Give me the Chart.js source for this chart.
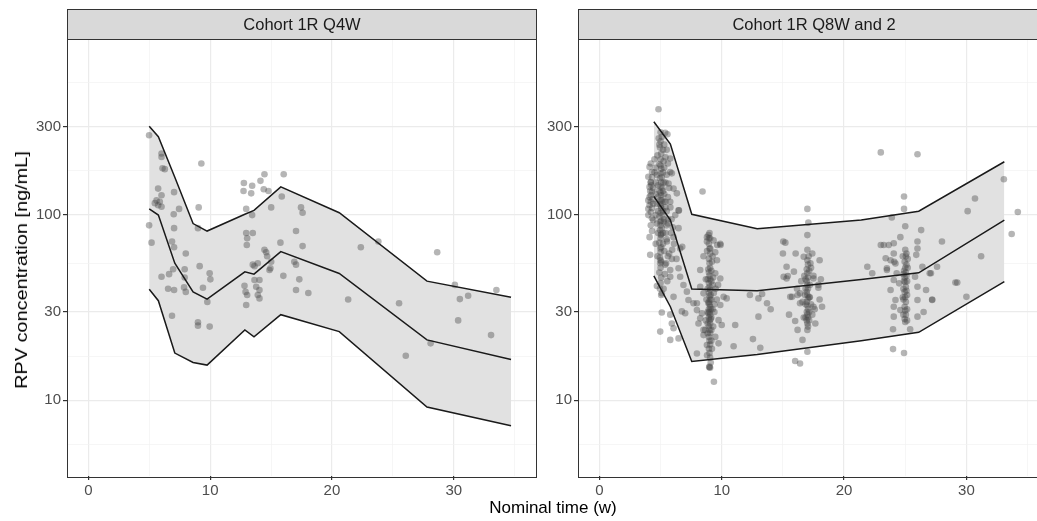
<!DOCTYPE html>
<html>
<head>
<meta charset="utf-8">
<script src="https://cdn.jsdelivr.net/npm/chart.js@4.4.1/dist/chart.umd.min.js"></script>
<style>
html,body{margin:0;padding:0;background:#fff;width:1037px;height:521px;overflow:hidden;position:relative;font-family:"Liberation Sans",Arial,sans-serif}
canvas{position:absolute;top:0}
#c1{left:0}
#c2{left:540px}
.ttl{position:absolute;color:#000;font-size:17px;white-space:nowrap}
#ylab{left:22px;top:270px;transform:translate(-50%,-50%) rotate(-90deg) scaleX(1.17)}
#xlab{left:553px;top:508px;transform:translate(-50%,-50%)}
</style>
</head>
<body>
<canvas id="c1" width="540" height="521"></canvas>
<canvas id="c2" width="520" height="521"></canvas>
<div class="ttl" id="ylab">RPV concentration [ng/mL]</div>
<div class="ttl" id="xlab">Nominal time (w)</div>
<script>
// tick labels
var xTicks = [0, 10, 20, 30];
var xMinor = [5, 15, 25, 35];
var yTicks = [10, 30, 100, 300];

// Cohort 1R Q4W: prediction interval (5th, 50th, 95th percentile)
var q4wTime = [5.0, 5.75, 7.1, 8.6, 9.75, 12.85, 13.6, 15.8, 20.6, 27.8, 34.7];
var q4wP95 = [302, 265, 160, 90, 82, 101, 106, 142, 103, 44, 36];
var q4wP50 = [108, 100, 55, 38.5, 35.2, 49.4, 48, 63.5, 48.4, 21.2, 16.6];
var q4wP05 = [39.8, 34.5, 18, 16, 15.5, 24, 22, 29, 23.5, 9.2, 7.3];

// Cohort 1R Q8W and 2
var q8wTime = [4.45, 5.8, 7.55, 12.9, 21.4, 26.1, 33.1];
var q8wP95 = [319, 242, 101, 84.5, 94, 105, 194];
var q8wP50 = [126, 94, 39.9, 39, 44.9, 48.8, 94];
var q8wP05 = [47, 32, 16.2, 17.7, 21, 23.3, 43.7];

// observed concentrations [time, conc]
var q4wObs = [
[4.99,270],[6.01,215],[6.01,206],[6.09,179],[6.28,177],[9.28,190],[5.73,139],[6.01,128],[5.6,120],[5.46,116],
[5.73,113],[6.01,111],[5.87,118],[7.04,133],[7.45,108],[7.01,101],[9.06,110],[4.99,88],[5.19,71],[7.04,85],
[6.87,72],[7.04,67],[8.0,62],[9.14,53],[7.91,51],[6.96,51],[6.63,48],[6.01,46.5],[6.55,40],[7.04,39.4],
[7.86,40.7],[8.0,38.5],[9.96,48.5],[10.02,45],[9.41,40.5],[9.77,34],[9.0,85],[6.87,28.6],[9.0,26.4],[9.0,25.3],
[9.96,25],[12.77,149],[12.74,135],[13.37,131],[13.45,144],[14.13,153],[14.46,166],[14.4,138],[14.79,135],[16.04,166],
[12.96,108],[13.45,100],[15.01,110],[15.88,126],[12.96,80],[13.5,80],[13.04,75],[13.01,69],[14.46,65],[14.6,63],
[14.68,60],[15.77,71],[13.5,54],[13.64,53],[13.91,55],[15.01,56],[14.95,51.6],[16.01,47],[12.82,41.5],[12.91,38.5],
[13.04,37],[12.96,32.7],[13.64,44.6],[14.05,44.6],[13.78,41],[14.05,39.4],[13.91,37],[14.05,35.5],[17.46,110],[17.59,103],
[17.05,82],[17.59,68],[16.91,56],[17.05,54],[17.32,45],[17.05,39.4],[18.06,38],[22.37,67],[23.81,72],[28.64,63],
[21.33,35],[25.51,33.4],[30.09,42],[30.5,35.2],[31.18,36.7],[33.5,39.4],[30.36,27],[33.06,22.5],[28.1,20.3],[26.06,17.4],
[14.87,50.5],[7.91,46]
];

var q8wObs = [
[4.2,190],[4.1,182],[4.3,171],[4.0,161],[4.2,151],[4.1,142],[4.3,134],[4.2,128],[4.0,120],[4.1,113],
[4.3,109],[4.2,104],[4.0,100],[4.4,94],[4.2,88],[4.3,82],[4.1,76],[4.2,150],[4.3,160],[4.1,125],
[4.2,118],[4.4,140],[4.0,108],[4.15,61],[4.5,170],[4.4,115],[4.3,96],[4.25,145],[4.15,135],[4.35,122],
[4.83,373],[5.38,278],[5.56,273],[5.0,280],[5.0,250],[4.95,232],[5.05,215],[5.0,200],[4.9,188],[5.05,178],
[5.0,168],[4.95,158],[5.05,150],[5.0,142],[4.9,135],[5.05,128],[5.0,121],[4.95,115],[5.05,109],[5.0,103],
[4.9,98],[5.05,93],[5.0,88],[4.95,83],[5.05,79],[5.0,75],[4.9,71],[5.05,67],[5.0,63],[4.95,59],
[5.05,56],[5.0,52],[4.9,49],[5.05,46],[5.0,43],[4.95,40],[5.05,37],[5.0,57],[4.98,66],[5.02,78],
[4.97,92],[5.03,112],[5.0,132],[5.0,185],[5.1,160],[5.15,140],[5.1,120],[5.15,100],[5.1,85],[5.2,70],
[5.3,240],[5.5,225],[5.4,205],[5.6,190],[5.3,180],[5.5,165],[5.4,150],[5.7,140],[5.3,130],[5.6,125],
[5.4,118],[5.5,105],[5.3,95],[5.6,90],[5.4,80],[5.5,74],[5.3,64],[5.6,60],[5.45,55],[5.35,48],
[5.55,44],[5.25,40],[5.8,110],[5.9,95],[6.0,86],[5.85,80],[6.1,70],[5.95,65],[4.6,150],[4.6,130],
[4.7,115],[4.6,100],[4.7,90],[4.8,80],[4.6,70],[4.75,60],[4.5,200],[4.6,180],[4.7,165],[4.8,145],
[4.8,125],[4.8,105],[4.75,210],[4.9,240],[4.85,260],[5.1,265],[5.2,225],[5.25,195],[5.2,170],[5.25,150],
[5.2,135],[5.25,118],[5.2,105],[5.25,92],[5.2,80],
[5.79,202],[5.92,168],[6.33,131],[6.47,106],[5.65,148],[6.06,139],[5.79,118],[6.2,100],[6.47,85],[6.06,76],
[6.6,66],[5.52,72],[5.92,58],[5.79,171],[6.5,106],[6.77,67.5],[4.97,55],[5.38,54],[5.79,50.5],[6.47,51.6],
[5.79,46.5],[6.6,46.5],[4.7,41.4],[5.1,37.8],[6.87,41.9],[7.15,38.6],[6.06,36.2],[7.28,34.8],[7.69,33.4],[7.97,33.4],
[5.1,29.8],[5.79,29],[6.74,30.2],[7.01,29.5],[5.92,26],[6.06,24.5],[6.47,21.6],[5.79,21.2],[4.97,23.5],[7.97,30.7],
[8.24,27.7],[8.1,26],[8.51,22.5],[8.65,24],[7.97,17.9],[5.5,88],[5.6,95],[5.4,110],[5.7,62],[6.3,58],
[8.43,134],[8.92,78],[8.79,72],[9.06,66],[9.47,63],
[9.0,80],[9.05,75],[8.95,70],[9.0,66],[9.05,62],[8.95,58],[9.0,55],[9.05,52],[8.95,49],[9.0,47],
[9.05,45],[8.95,43],[9.0,41],[9.05,39.5],[8.95,38],[9.0,36.5],[9.05,35],[8.95,34],[9.0,33],[9.05,32],
[8.95,31],[9.0,30],[9.05,29],[8.95,28],[9.0,27],[9.05,26],[8.95,25],[9.0,24],[9.05,23],[8.95,22],
[9.0,21],[9.05,20],[8.95,19],[9.0,18],[9.05,17],[9.0,15.2],[9.05,15],[8.98,15.1],[9.36,12.6],[9.1,37],
[9.1,31],[9.1,27.5],[8.9,33.5],[8.9,29.5],[9.15,44],[8.9,51],
[8.85,45],[9.15,50],[8.85,40],[9.15,35],[8.85,30],[9.15,28],[8.85,26],[9.15,24],[8.85,23],[9.15,21],
[9.2,56],[8.8,64],[9.25,42],[8.75,35],[9.25,31],[8.7,27],[9.3,25],[9.2,19],[8.8,17.5],[9.1,16],
[9.25,60],[9.3,46],[8.7,45],[9.35,38],[9.4,33],
[8.79,76],[9.33,73],[9.88,70],[8.51,60],[9.61,57],[9.88,45.5],[9.47,48.5],[10.15,36.2],[10.4,35.5],[9.88,32.7],
[9.74,27.1],[10.0,25.5],[9.47,22],[8.79,19.9],[9.74,20.3],[8.51,37.8],[8.38,29.5],[8.51,24],[8.24,50.5],[8.24,41],
[8.95,75],[9.63,69],[9.9,69],[9.5,40],[9.6,35],[9.4,30],[9.7,42],
[11.1,25.5],[10.97,19.6],[12.3,37],[13.0,35.5],[13.3,37.5],[13.7,33.4],[14.0,31],[13.0,28.3],[12.55,21.4],[13.15,19.2],
[15.03,72],[15.2,71],[15.0,62],[16.04,62],[16.7,59.6],[17.1,60],[15.3,52.6],[15.4,46.9],[15.6,36.2],[16.2,37],
[16.4,37.8],[15.5,29],[16.0,26.8],[16.2,24],[16.6,21.2],[17.0,18.3],[16.0,16.3],[16.4,15.8],[17.0,108],[17.08,91],
[17.0,78],[17.0,65],[17.4,62],[18.0,57],[15.06,46.5],[15.3,45.5],[15.9,49.5],[17.5,45.5],[17.9,42],[18.2,32],
[17.5,32],[17.65,26],[16.4,33.4],[16.15,40],[15.75,36.2],
[17.0,57],[17.05,54],[16.95,51],[17.0,48.5],[17.05,46],[16.95,44],[17.0,42],[17.05,40],[16.95,38.5],[17.0,37],
[17.05,35.5],[16.95,34],[17.0,32.5],[17.05,31],[16.95,30],[17.0,29],[17.05,28],[16.95,27],[17.0,26],[17.05,25],
[17.0,24],[17.3,52],[17.5,47],[18.1,45],[17.9,40.5],[17.2,36],[17.3,33],[18.0,35],[16.6,34],[16.5,44],
[17.6,31],[16.7,28],[17.4,29],
[16.85,45],[17.15,50],[16.85,40],[17.15,36],[16.85,33],[17.15,30],[16.85,28],[17.15,27],[17.2,42],[16.8,37],
[17.25,55],[16.75,47],
[23.0,218],[26.0,213],[24.9,126],[24.9,108],[25.0,87],[26.3,83],[24.6,76],[23.9,97],
[26.0,72],[26.0,66],[25.9,61],[26.4,52.6],[25.8,46.5],[26.0,41],[26.7,39.4],[26.0,34.8],[26.5,30],[27.2,35],
[27.0,48.5],[27.6,52.6],[26.0,28.3],
[25.0,65],[25.05,60],[24.95,56],[25.0,52],[25.05,49],[24.95,46],[25.0,43.5],[25.05,41],[24.95,38.5],[25.0,36],
[25.05,34],[24.95,32],[25.0,30.5],[25.05,29],[24.95,27.5],[25.0,26.5],[25.1,62],[25.1,54],[25.1,47],[25.1,39],
[24.9,44],[24.9,50],
[24.85,48],[25.15,44],[24.85,40],[25.15,37],[24.85,35],[25.15,31],[24.85,29],[25.15,27],[25.2,58],[24.8,60],
[25.2,52],[24.8,36],
[24.06,70.5],[23.65,69],[23.24,69],[23.4,58.5],[23.8,57],[24.2,54.8],[24.06,62],[23.5,50.5],[24.3,48.5],[24.06,44.6],
[24.5,42.8],[23.8,39.4],[24.2,34.8],[24.06,32],[24.6,30.7],[24.06,28.3],[24.0,24.2],[25.4,24.2],[24.0,18.9],[24.9,18],
[23.0,69],[21.9,52.6],[22.3,48.5],[23.5,51.6],[24.1,56],[27.1,48.5],[27.2,34.8],
[28.0,72],[29.1,43.2],[29.25,43.2],[30.0,36.2],[30.7,123],[30.1,105],[33.06,156],[34.2,104],[33.7,79],[31.2,60]
];

Chart.defaults.font.family = '"Liberation Sans", Arial, sans-serif';

// gridlines of the log axis: majors plus geometric midpoints (ggplot style)
var yMinor = [];
for (var i = 0; i < yTicks.length - 1; i++) yMinor.push(Math.sqrt(yTicks[i] * yTicks[i + 1]));
yMinor.unshift(yTicks[0] / Math.sqrt(yTicks[1] / yTicks[0]));
var last = yTicks.length - 1;
yMinor.push(yTicks[last] * Math.sqrt(yTicks[last] / yTicks[last - 1]));

var facet = {
	id: 'facet',
	afterDraw: function(chart, args, opts) {
		var ctx = chart.ctx, a = chart.chartArea;
		var l = Math.round(a.left) + 0.5, t = Math.round(a.top) + 0.5;
		var w = Math.round(a.right - a.left), h = Math.round(a.bottom - a.top);
		ctx.save();
		ctx.fillStyle = '#d9d9d9';
		ctx.fillRect(l, t - 30, w, 30);
		ctx.strokeStyle = '#333333';
		ctx.lineWidth = 1;
		ctx.strokeRect(l, t - 30, w, 30);
		ctx.strokeRect(l, t, w, h);
		ctx.fillStyle = '#1a1a1a';
		ctx.font = '16.5px "Liberation Sans", Arial, sans-serif';
		ctx.textAlign = 'center';
		ctx.textBaseline = 'middle';
		ctx.fillText(opts.text, l + w / 2, t - 14.5);
		ctx.restore();
	}
};

function pairs(xs, ys) {
	return xs.map(function(x, i) { return {x: x, y: ys[i]}; });
}

function isMajor(list, v) {
	return list.some(function(m) { return Math.abs(m - v) < 1e-6; });
}

function makePanel(id, title, time, p95, p50, p05, obs, yWidth, padRight) {
	var line = {borderColor: '#1a1a1a', borderWidth: 1.5, pointRadius: 0, tension: 0};
	return new Chart(document.getElementById(id), {
		type: 'line',
		data: {
			datasets: [
				Object.assign({data: pairs(time, p95), fill: 2, backgroundColor: '#e1e1e1'}, line),
				Object.assign({data: pairs(time, p50), fill: false}, line),
				Object.assign({data: pairs(time, p05), fill: false}, line),
				{
					data: obs.map(function(p) { return {x: p[0], y: p[1]}; }),
					showLine: false,
					pointRadius: 3.3,
					pointBorderWidth: 0,
					pointBackgroundColor: 'rgba(70,70,70,0.4)'
				}
			]
		},
		options: {
			responsive: false,
			animation: false,
			events: [],
			layout: {padding: {top: 38.5, right: padRight, left: 0, bottom: 0}},
			plugins: {
				legend: {display: false},
				tooltip: {enabled: false},
				filler: {drawTime: 'beforeDatasetsDraw'},
				facet: {text: title}
			},
			scales: {
				x: {
					type: 'linear',
					min: -1.75,
					max: 36.75,
					afterBuildTicks: function(s) {
						s.ticks = xTicks.concat(xMinor).sort(function(a, b) { return a - b; }).map(function(v) { return {value: v}; });
					},
					afterFit: function(s) { s.height = 45; },
					border: {display: false},
					grid: {
						color: function(c) { return isMajor(xTicks, c.tick.value) ? '#ebebeb' : '#f2f2f2'; },
						lineWidth: function(c) { return isMajor(xTicks, c.tick.value) ? 1.2 : 0.7; },
						tickColor: function(c) { return isMajor(xTicks, c.tick.value) ? '#333333' : 'rgba(0,0,0,0)'; },
						tickLength: 4
					},
					ticks: {
						autoSkip: false,
						maxRotation: 0,
						padding: 2,
						color: '#4d4d4d',
						font: {size: 15},
						callback: function(v) { return isMajor(xTicks, v) ? String(v) : ''; }
					}
				},
				y: {
					type: 'logarithmic',
					min: 3.904,
					max: 898,
					afterBuildTicks: function(s) {
						s.ticks = yTicks.concat(yMinor).sort(function(a, b) { return a - b; }).map(function(v) { return {value: v}; });
					},
					afterFit: function(s) { s.width = yWidth; },
					border: {display: false},
					grid: {
						color: function(c) { return isMajor(yTicks, c.tick.value) ? '#ebebeb' : '#f2f2f2'; },
						lineWidth: function(c) { return isMajor(yTicks, c.tick.value) ? 1.2 : 0.7; },
						tickColor: function(c) { return isMajor(yTicks, c.tick.value) ? '#333333' : 'rgba(0,0,0,0)'; },
						tickLength: 4
					},
					ticks: {
						autoSkip: false,
						padding: 2,
						color: '#4d4d4d',
						font: {size: 15},
						callback: function(v) { return isMajor(yTicks, v) ? String(v) : ''; }
					}
				}
			}
		},
		plugins: [facet]
	});
}

makePanel('c1', 'Cohort 1R Q4W', q4wTime, q4wP95, q4wP50, q4wP05, q4wObs, 67, 2);
makePanel('c2', 'Cohort 1R Q8W and 2', q8wTime, q8wP95, q8wP50, q8wP05, q8wObs, 38, 11);
</script>
</body>
</html>
